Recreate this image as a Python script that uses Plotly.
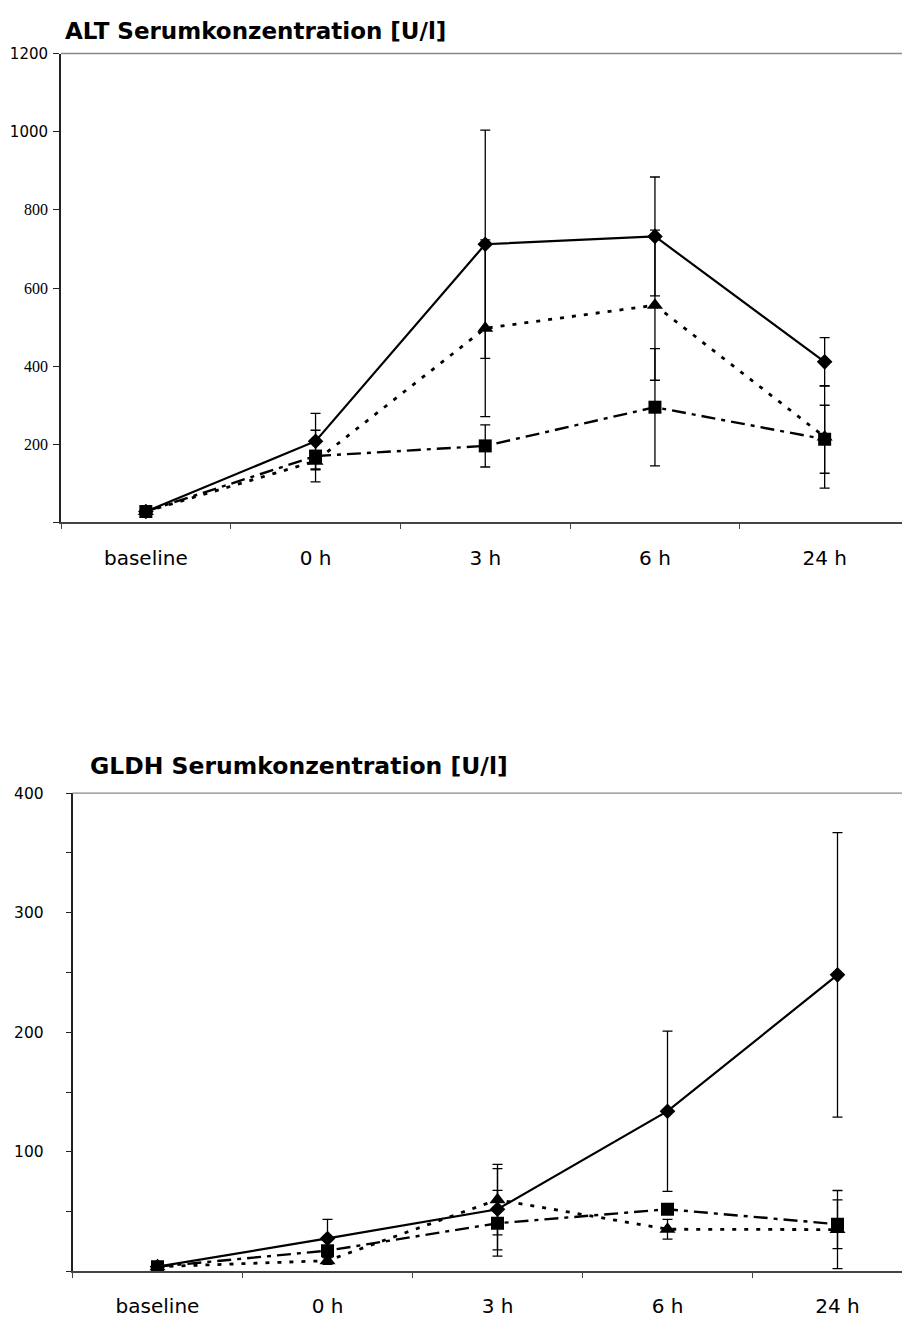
import plotly.graph_objects as go

# Time points
categories = ["baseline", "0 h", "3 h", "6 h", "24 h"]

# ALT serum concentration [U/l], mean and SD per group
alt_diamond = [28, 208, 712, 732, 411]
alt_diamond_sd = [0, 71, 292, 152, 62]
alt_triangle = [28, 157, 497, 556, 219]
alt_triangle_sd = [0, 22, 226, 192, 131]
alt_square = [28, 170, 196, 295, 213]
alt_square_sd = [0, 66, 54, 150, 87]

# GLDH serum concentration [U/l], mean and SD per group
gldh_diamond = [4, 27.6, 52, 134, 248]
gldh_diamond_sd = [0, 16, 34, 67, 119]
gldh_triangle = [4, 9, 60, 35.3, 35]
gldh_triangle_sd = [0, 3, 29.5, 8.3, 32.7]
gldh_square = [4, 17.4, 40.3, 52, 39.5]
gldh_square_sd = [0, 4, 27.5, 3, 20.4]

# Axis ticks
alt_tickvals = [0, 200, 400, 600, 800, 1000, 1200]
alt_ticklabels = ["", "200", "400", "600", "800", "1000", "1200"]
gldh_tickvals = [0, 50, 100, 150, 200, 250, 300, 350, 400]
gldh_ticklabels = ["", "", "100", "", "200", "", "300", "", "400"]

W, H = 902, 1318

SERIES_STYLE = {
    "diamond": dict(symbol="diamond", size=12, dash="solid", width=2.2),
    "triangle": dict(symbol="triangle-up", size=14, dash="4px,8px", width=2.8),
    "square": dict(symbol="square", size=13, dash="14px,6px,4px,6px", width=2.4),
}


def add_series(fig, y, sd, kind, xa, ya):
    st = SERIES_STYLE[kind]
    fig.add_trace(go.Scatter(
        x=categories, y=y, xaxis=xa, yaxis=ya, mode="lines+markers",
        line=dict(color="black", width=st["width"], dash=st["dash"]),
        marker=dict(symbol=st["symbol"], size=st["size"], color="black",
                    line=dict(width=0)),
        error_y=dict(type="data", array=sd, visible=True, color="black",
                     thickness=1.3, width=5),
        showlegend=False, hoverinfo="skip",
    ))


fig = go.Figure()
for y, sd, kind in [(alt_square, alt_square_sd, "square"),
                    (alt_triangle, alt_triangle_sd, "triangle"),
                    (alt_diamond, alt_diamond_sd, "diamond")]:
    add_series(fig, y, sd, kind, "x", "y")
for y, sd, kind in [(gldh_square, gldh_square_sd, "square"),
                    (gldh_triangle, gldh_triangle_sd, "triangle"),
                    (gldh_diamond, gldh_diamond_sd, "diamond")]:
    add_series(fig, y, sd, kind, "x2", "y2")

# Pixel geometry of the two panels
top_left, top_y0, top_y1 = 61, 519, 45
bot_left, bot_y0, bot_y1 = 72.5, 1276, 792.5
top_band = 169.7
bot_band = 170.0


def py(p):
    return (H - p) / H


sans = "DejaVu Sans, Verdana, sans-serif"
serif = "Liberation Serif, Times New Roman, serif"

alt_ticktext = []
for t in alt_ticklabels:
    if t in ("1000", "1200"):
        alt_ticktext.append('<span style="font-family:DejaVu Sans;font-size:15px">' + t + "</span>")
    else:
        alt_ticktext.append(t)

fig.update_layout(
    width=W, height=H, margin=dict(l=0, r=0, t=0, b=0),
    paper_bgcolor="white", plot_bgcolor="white",
    xaxis=dict(
        domain=[top_left / W, 1], anchor="y", type="category",
        range=[-0.5, -0.5 + (W - top_left) / top_band],
        tickson="boundaries", ticks="outside", ticklen=5, tickwidth=1,
        tickcolor="#444", showline=True, linecolor="#444", linewidth=1.5,
        showgrid=False, zeroline=False, ticklabelstandoff=17,
        tickfont=dict(family=sans, size=20, color="black"),
    ),
    yaxis=dict(
        domain=[py(top_y0), py(top_y1)], anchor="x", range=[0, 1200],
        tickmode="array", tickvals=alt_tickvals, ticktext=alt_ticktext,
        ticks="outside", ticklen=6, tickwidth=1, tickcolor="#222",
        showline=True, linecolor="#222", linewidth=1.5,
        showgrid=False, zeroline=False, ticklabelstandoff=2,
        tickfont=dict(family=serif, size=16, color="black"),
    ),
    xaxis2=dict(
        domain=[bot_left / W, 1], anchor="y2", type="category",
        range=[-0.5, -0.5 + (W - bot_left) / bot_band],
        tickson="boundaries", ticks="outside", ticklen=5, tickwidth=1,
        tickcolor="#444", showline=True, linecolor="#444", linewidth=1.5,
        showgrid=False, zeroline=False, ticklabelstandoff=16,
        tickfont=dict(family=sans, size=20, color="black"),
    ),
    yaxis2=dict(
        domain=[py(bot_y0), py(bot_y1)], anchor="x2", range=[0, 400],
        tickmode="array", tickvals=gldh_tickvals, ticktext=gldh_ticklabels,
        ticks="outside", ticklen=5, tickwidth=1, tickcolor="#222",
        showline=True, linecolor="#222", linewidth=1.5,
        showgrid=False, zeroline=False, ticklabelstandoff=19,
        tickfont=dict(family=sans, size=15.5, color="black"),
    ),
    shapes=[
        dict(type="line", xref="paper", yref="paper",
             x0=top_left / W, x1=1, y0=py(top_y1), y1=py(top_y1),
             line=dict(color="#888", width=1.3)),
        dict(type="line", xref="paper", yref="paper",
             x0=bot_left / W, x1=1, y0=py(bot_y1), y1=py(bot_y1),
             line=dict(color="#888", width=1.3)),
    ],
    annotations=[
        dict(text="<b>ALT Serumkonzentration [U/l]</b>", xref="paper", yref="paper",
             x=63 / W, y=py(22), xanchor="left", yanchor="middle", showarrow=False,
             font=dict(family="DejaVu Sans", size=23, color="black")),
        dict(text="<b>GLDH Serumkonzentration [U/l]</b>", xref="paper", yref="paper",
             x=88 / W, y=py(765), xanchor="left", yanchor="middle", showarrow=False,
             font=dict(family="DejaVu Sans", size=23.5, color="black")),
    ],
)

fig.write_html("out.html")
